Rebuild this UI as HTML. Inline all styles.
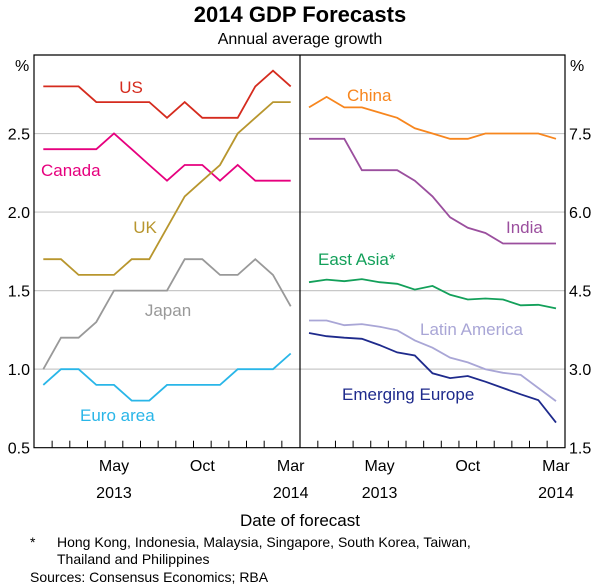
<!DOCTYPE html>
<html><head><meta charset="utf-8"><style>
body{margin:0;background:#fff;}
svg{display:block;font-family:"Liberation Sans",Arial,sans-serif;}
</style></head><body>
<svg id="chart" width="600" height="586" viewBox="0 0 600 586">
<text x="300" y="22" text-anchor="middle" font-size="22" font-weight="bold" fill="#000">2014 GDP Forecasts</text>
<text x="300" y="44" text-anchor="middle" font-size="16" fill="#000">Annual average growth</text>
<g id="grid"></g>
<g id="series"></g>
<g id="axes"></g>
<g id="labels" font-size="17">
<text x="131" y="93" text-anchor="middle" fill="#d52b1e">US</text>
<text x="41" y="176" fill="#e6007e">Canada</text>
<text x="145" y="233" text-anchor="middle" fill="#b8962e">UK</text>
<text x="168" y="316" text-anchor="middle" fill="#999999">Japan</text>
<text x="80" y="421" fill="#29b6e8">Euro area</text>
<text x="347" y="101" fill="#f7861e">China</text>
<text x="506" y="233" fill="#9b4f9e">India</text>
<text x="318" y="265" fill="#13a05a">East Asia*</text>
<text x="420" y="335" fill="#a9a6d6">Latin America</text>
<text x="342" y="400" fill="#1e2a8c">Emerging Europe</text>
</g>
<text x="300" y="526" text-anchor="middle" font-size="17">Date of forecast</text>
<text x="30" y="547" font-size="14">*</text>
<text x="57" y="547" font-size="14">Hong Kong, Indonesia, Malaysia, Singapore, South Korea, Taiwan,</text>
<text x="57" y="564" font-size="14">Thailand and Philippines</text>
<text x="30" y="582" font-size="14">Sources: Consensus Economics; RBA</text>
</svg>
<script>
const leftTicks = [0.5, 1.0, 1.5, 2.0, 2.5];
const leftTickLabels = ["0.5", "1.0", "1.5", "2.0", "2.5"];
const rightTicks = [1.5, 3.0, 4.5, 6.0, 7.5];
const rightTickLabels = ["1.5", "3.0", "4.5", "6.0", "7.5"];
const monthLabels = ["May", "Oct", "Mar"];
const monthIdx = [4, 9, 14];
const yearLabels = ["2013", "2014"];
const yearIdx = [4, 14];
const us = [2.8,2.8,2.8,2.7,2.7,2.7,2.7,2.6,2.7,2.6,2.6,2.6,2.8,2.9,2.8];
const canada = [2.4,2.4,2.4,2.4,2.5,2.4,2.3,2.2,2.3,2.3,2.2,2.3,2.2,2.2,2.2];
const uk = [1.7,1.7,1.6,1.6,1.6,1.7,1.7,1.9,2.1,2.2,2.3,2.5,2.6,2.7,2.7];
const japan = [1.0,1.2,1.2,1.3,1.5,1.5,1.5,1.5,1.7,1.7,1.6,1.6,1.7,1.6,1.4];
const euro = [0.9,1.0,1.0,0.9,0.9,0.8,0.8,0.9,0.9,0.9,0.9,1.0,1.0,1.0,1.1];
const china = [8.0,8.2,8.0,8.0,7.9,7.8,7.6,7.5,7.4,7.4,7.5,7.5,7.5,7.5,7.4];
const india = [7.4,7.4,7.4,6.8,6.8,6.8,6.6,6.3,5.9,5.7,5.6,5.4,5.4,5.4,5.4];
const eastAsia = [4.66,4.71,4.68,4.72,4.66,4.63,4.52,4.59,4.42,4.33,4.35,4.33,4.22,4.23,4.16];
const latAm = [3.93,3.93,3.84,3.86,3.81,3.74,3.55,3.41,3.22,3.13,3.0,2.93,2.89,2.64,2.39];
const emEurope = [3.69,3.63,3.60,3.58,3.46,3.32,3.26,2.92,2.83,2.87,2.76,2.64,2.52,2.41,1.98];

const NS = "http://www.w3.org/2000/svg";
const TOP = 55, BOT = 447.7;
const L = {x0:34, x1:300, p0:43.3, step:17.67, vmin:0.5, vmax:3.0};
const R = {x0:300, x1:565, p0:309, step:17.64, vmin:1.5, vmax:9.0};
function xs(p,i){return p.p0 + i*p.step;}
function ys(p,v){return BOT - (v-p.vmin)/(p.vmax-p.vmin)*(BOT-TOP);}
function mk(tag, attrs, parent){const e=document.createElementNS(NS,tag);for(const k in attrs)e.setAttribute(k,attrs[k]);parent.appendChild(e);return e;}
const grid=document.getElementById('grid'), axes=document.getElementById('axes'), ser=document.getElementById('series');

leftTicks.forEach((v,i)=>{
  const y=ys(L,v);
  if(i>0){
    const g=mk('line',{x1:L.x0,x2:R.x1,y1:y,y2:y,stroke:'#c8c8c8','stroke-width':1.2},grid);
    
    
  }
  const t=mk('text',{x:30,y:y+6,'text-anchor':'end','font-size':16},axes);
  t.textContent=leftTickLabels[i];
  
  
});
rightTicks.forEach((v,i)=>{
  const y=ys(R,v);
  const t=mk('text',{x:569,y:y+6,'font-size':16},axes);
  t.textContent=rightTickLabels[i];
  
  
});
[[15,'left'],[570,'right']].forEach(([x,s])=>{
  const t=mk('text',{x:x,y:71,'font-size':16},axes);
  t.textContent='%';
  
  
});
const fr=mk('path',{d:`M${L.x0} ${TOP}H${R.x1}V${BOT}H${L.x0}Z M300 ${TOP}V${BOT}`,fill:'none',stroke:'#000','stroke-width':1.2},axes);


[L,R].forEach((p,pi)=>{
  for(let i=0;i<14;i++){
    const x=xs(p,i+0.5);
    const tk=mk('line',{x1:x,x2:x,y1:BOT,y2:BOT-7,stroke:'#000','stroke-width':1},axes);
    
    
  }
  monthIdx.forEach((idx,k)=>{
    const t=mk('text',{x:xs(p,idx),y:471,'text-anchor':'middle','font-size':16},axes);
    t.textContent=monthLabels[k];
    
    
  });
  yearIdx.forEach((idx,k)=>{
    const t=mk('text',{x:xs(p,idx),y:498,'text-anchor':'middle','font-size':16},axes);
    t.textContent=yearLabels[k];
    
    
  });
});
function line(p,data,color,name){
  const d=data.map((v,i)=>(i?'L':'M')+xs(p,i).toFixed(1)+' '+ys(p,v).toFixed(1)).join(' ');
  const e=mk('path',{d:d,fill:'none',stroke:color,'stroke-width':1.8,'stroke-linejoin':'miter'},ser);
  
  
}
line(L,us,'#d52b1e','line-us');
line(L,canada,'#e6007e','line-canada');
line(L,uk,'#b8962e','line-uk');
line(L,japan,'#999999','line-japan');
line(L,euro,'#29b6e8','line-euro-area');
line(R,china,'#f7861e','line-china');
line(R,india,'#9b4f9e','line-india');
line(R,eastAsia,'#13a05a','line-east-asia');
line(R,latAm,'#a9a6d6','line-latin-america');
line(R,emEurope,'#1e2a8c','line-emerging-europe');
</script>
</body></html>
